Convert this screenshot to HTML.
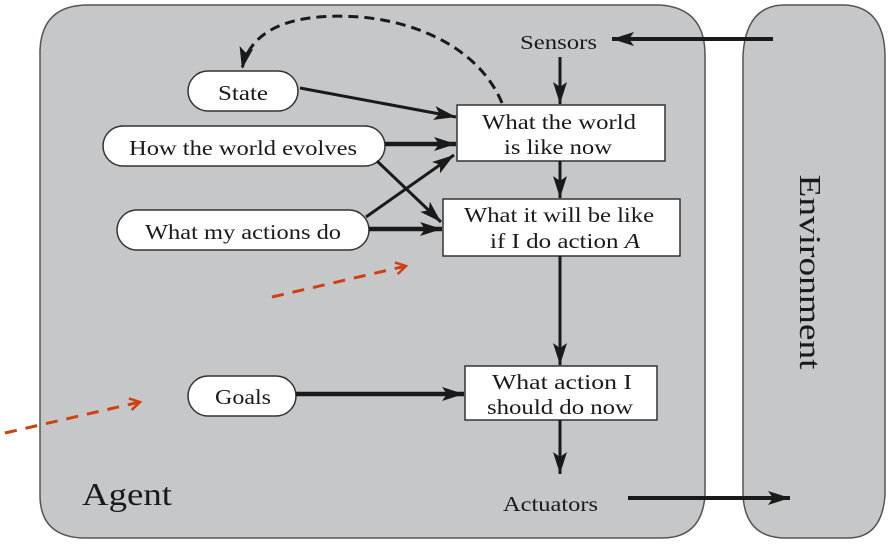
<!DOCTYPE html>
<html><head><style>
html,body{margin:0;padding:0;background:#fff;}
svg{display:block;}
text{font-family:"Liberation Serif",serif;fill:#1a1a1a;}
</style></head><body>
<svg width="893" height="552" viewBox="0 0 893 552" xmlns="http://www.w3.org/2000/svg">
<defs>
<marker id="a" viewBox="0 0 22 14" refX="22" refY="7" markerWidth="22" markerHeight="14" markerUnits="userSpaceOnUse" orient="auto"><path d="M0,0 L22,7 L0,14 L5,7 Z" fill="#1a1a1a"/></marker>
<marker id="r" viewBox="0 0 14 14" refX="12" refY="7" markerWidth="14" markerHeight="14" markerUnits="userSpaceOnUse" orient="auto"><path d="M2,1 L12,7 L2,13" fill="none" stroke="#d04010" stroke-width="2.5"/></marker>
</defs>
<path d="M40,50 Q42,5 88,5 L660,5 Q705,8 705,55 L705,495 Q702,538 662,538 L82,538 Q40,536 40,495 Z" fill="#c6c7c9" stroke="#555" stroke-width="1.5"/>
<path d="M743,55 Q746,5 785,5 L845,5 Q884,7 885,55 L885,495 Q882,538 848,538 L782,538 Q745,536 743,495 Z" fill="#c6c7c9" stroke="#555" stroke-width="1.5"/>
<text x="0" y="0" font-size="31" transform="translate(800,272) rotate(90)" text-anchor="middle" textLength="195" lengthAdjust="spacingAndGlyphs">Environment</text>
<text x="82" y="505" font-size="32" textLength="90" lengthAdjust="spacingAndGlyphs">Agent</text>
<text x="520" y="49" font-size="20" textLength="77" lengthAdjust="spacingAndGlyphs">Sensors</text>
<text x="503" y="511" font-size="21" textLength="95" lengthAdjust="spacingAndGlyphs">Actuators</text>
<!-- ovals -->
<rect x="188" y="71" width="110" height="40" rx="20" fill="#fff" stroke="#333" stroke-width="1.5"/>
<text x="218" y="100" font-size="21" textLength="50" lengthAdjust="spacingAndGlyphs">State</text>
<rect x="103" y="126" width="282" height="40" rx="20" fill="#fff" stroke="#333" stroke-width="1.5"/>
<text x="129" y="155" font-size="21" textLength="228" lengthAdjust="spacingAndGlyphs">How the world evolves</text>
<rect x="117" y="210" width="252" height="40" rx="20" fill="#fff" stroke="#333" stroke-width="1.5"/>
<text x="145" y="239" font-size="21" textLength="196" lengthAdjust="spacingAndGlyphs">What my actions do</text>
<rect x="188" y="376" width="108" height="40" rx="20" fill="#fff" stroke="#333" stroke-width="1.5"/>
<text x="215" y="404" font-size="21" textLength="56" lengthAdjust="spacingAndGlyphs">Goals</text>
<!-- boxes -->
<rect x="457" y="105" width="208" height="56" fill="#fff" stroke="#333" stroke-width="1.5"/>
<text x="482" y="129" font-size="21" textLength="154" lengthAdjust="spacingAndGlyphs">What the world</text>
<text x="504" y="154" font-size="21" textLength="108" lengthAdjust="spacingAndGlyphs">is like now</text>
<rect x="443" y="199" width="237" height="57" fill="#fff" stroke="#333" stroke-width="1.5"/>
<text x="464" y="222" font-size="21" textLength="190" lengthAdjust="spacingAndGlyphs">What it will be like</text>
<text x="490" y="248" font-size="21" textLength="150" lengthAdjust="spacingAndGlyphs">if I do action <tspan font-style="italic">A</tspan></text>
<rect x="465" y="366" width="192" height="54" fill="#fff" stroke="#333" stroke-width="1.5"/>
<text x="492" y="389" font-size="21" textLength="140" lengthAdjust="spacingAndGlyphs">What action I</text>
<text x="487" y="414" font-size="21" textLength="146" lengthAdjust="spacingAndGlyphs">should do now</text>
<!-- arrows -->
<g stroke="#1a1a1a" fill="none">
<line x1="773" y1="39" x2="612" y2="39" stroke-width="4" marker-end="url(#a)"/>
<line x1="560" y1="57" x2="560" y2="104" stroke-width="3" marker-end="url(#a)"/>
<line x1="560" y1="161" x2="560" y2="198" stroke-width="3" marker-end="url(#a)"/>
<line x1="560" y1="256" x2="560" y2="365" stroke-width="3" marker-end="url(#a)"/>
<line x1="560" y1="420" x2="560" y2="474" stroke-width="3" marker-end="url(#a)"/>
<line x1="628" y1="498" x2="790" y2="498" stroke-width="4" marker-end="url(#a)"/>
<line x1="300" y1="88" x2="456" y2="117" stroke-width="3" marker-end="url(#a)"/>
<line x1="385" y1="144" x2="456" y2="144" stroke-width="4.5" marker-end="url(#a)"/>
<line x1="377" y1="161" x2="441" y2="222" stroke-width="3" marker-end="url(#a)"/>
<line x1="366" y1="217" x2="454" y2="155" stroke-width="3" marker-end="url(#a)"/>
<line x1="369" y1="229" x2="442" y2="229" stroke-width="4.5" marker-end="url(#a)"/>
<line x1="296" y1="394" x2="464" y2="394" stroke-width="4.5" marker-end="url(#a)"/>
<path d="M502,103 C480,50 420,22 360,17 C290,12 250,30 242,69" stroke-width="3" stroke-dasharray="10,6" marker-end="url(#a)"/>
</g>
<g stroke="#d04010" stroke-width="3" fill="none" stroke-dasharray="12,9">
<line x1="272" y1="297" x2="406" y2="266" marker-end="url(#r)"/>
<line x1="5" y1="433" x2="140" y2="402" marker-end="url(#r)"/>
</g>
</svg>
</body></html>
